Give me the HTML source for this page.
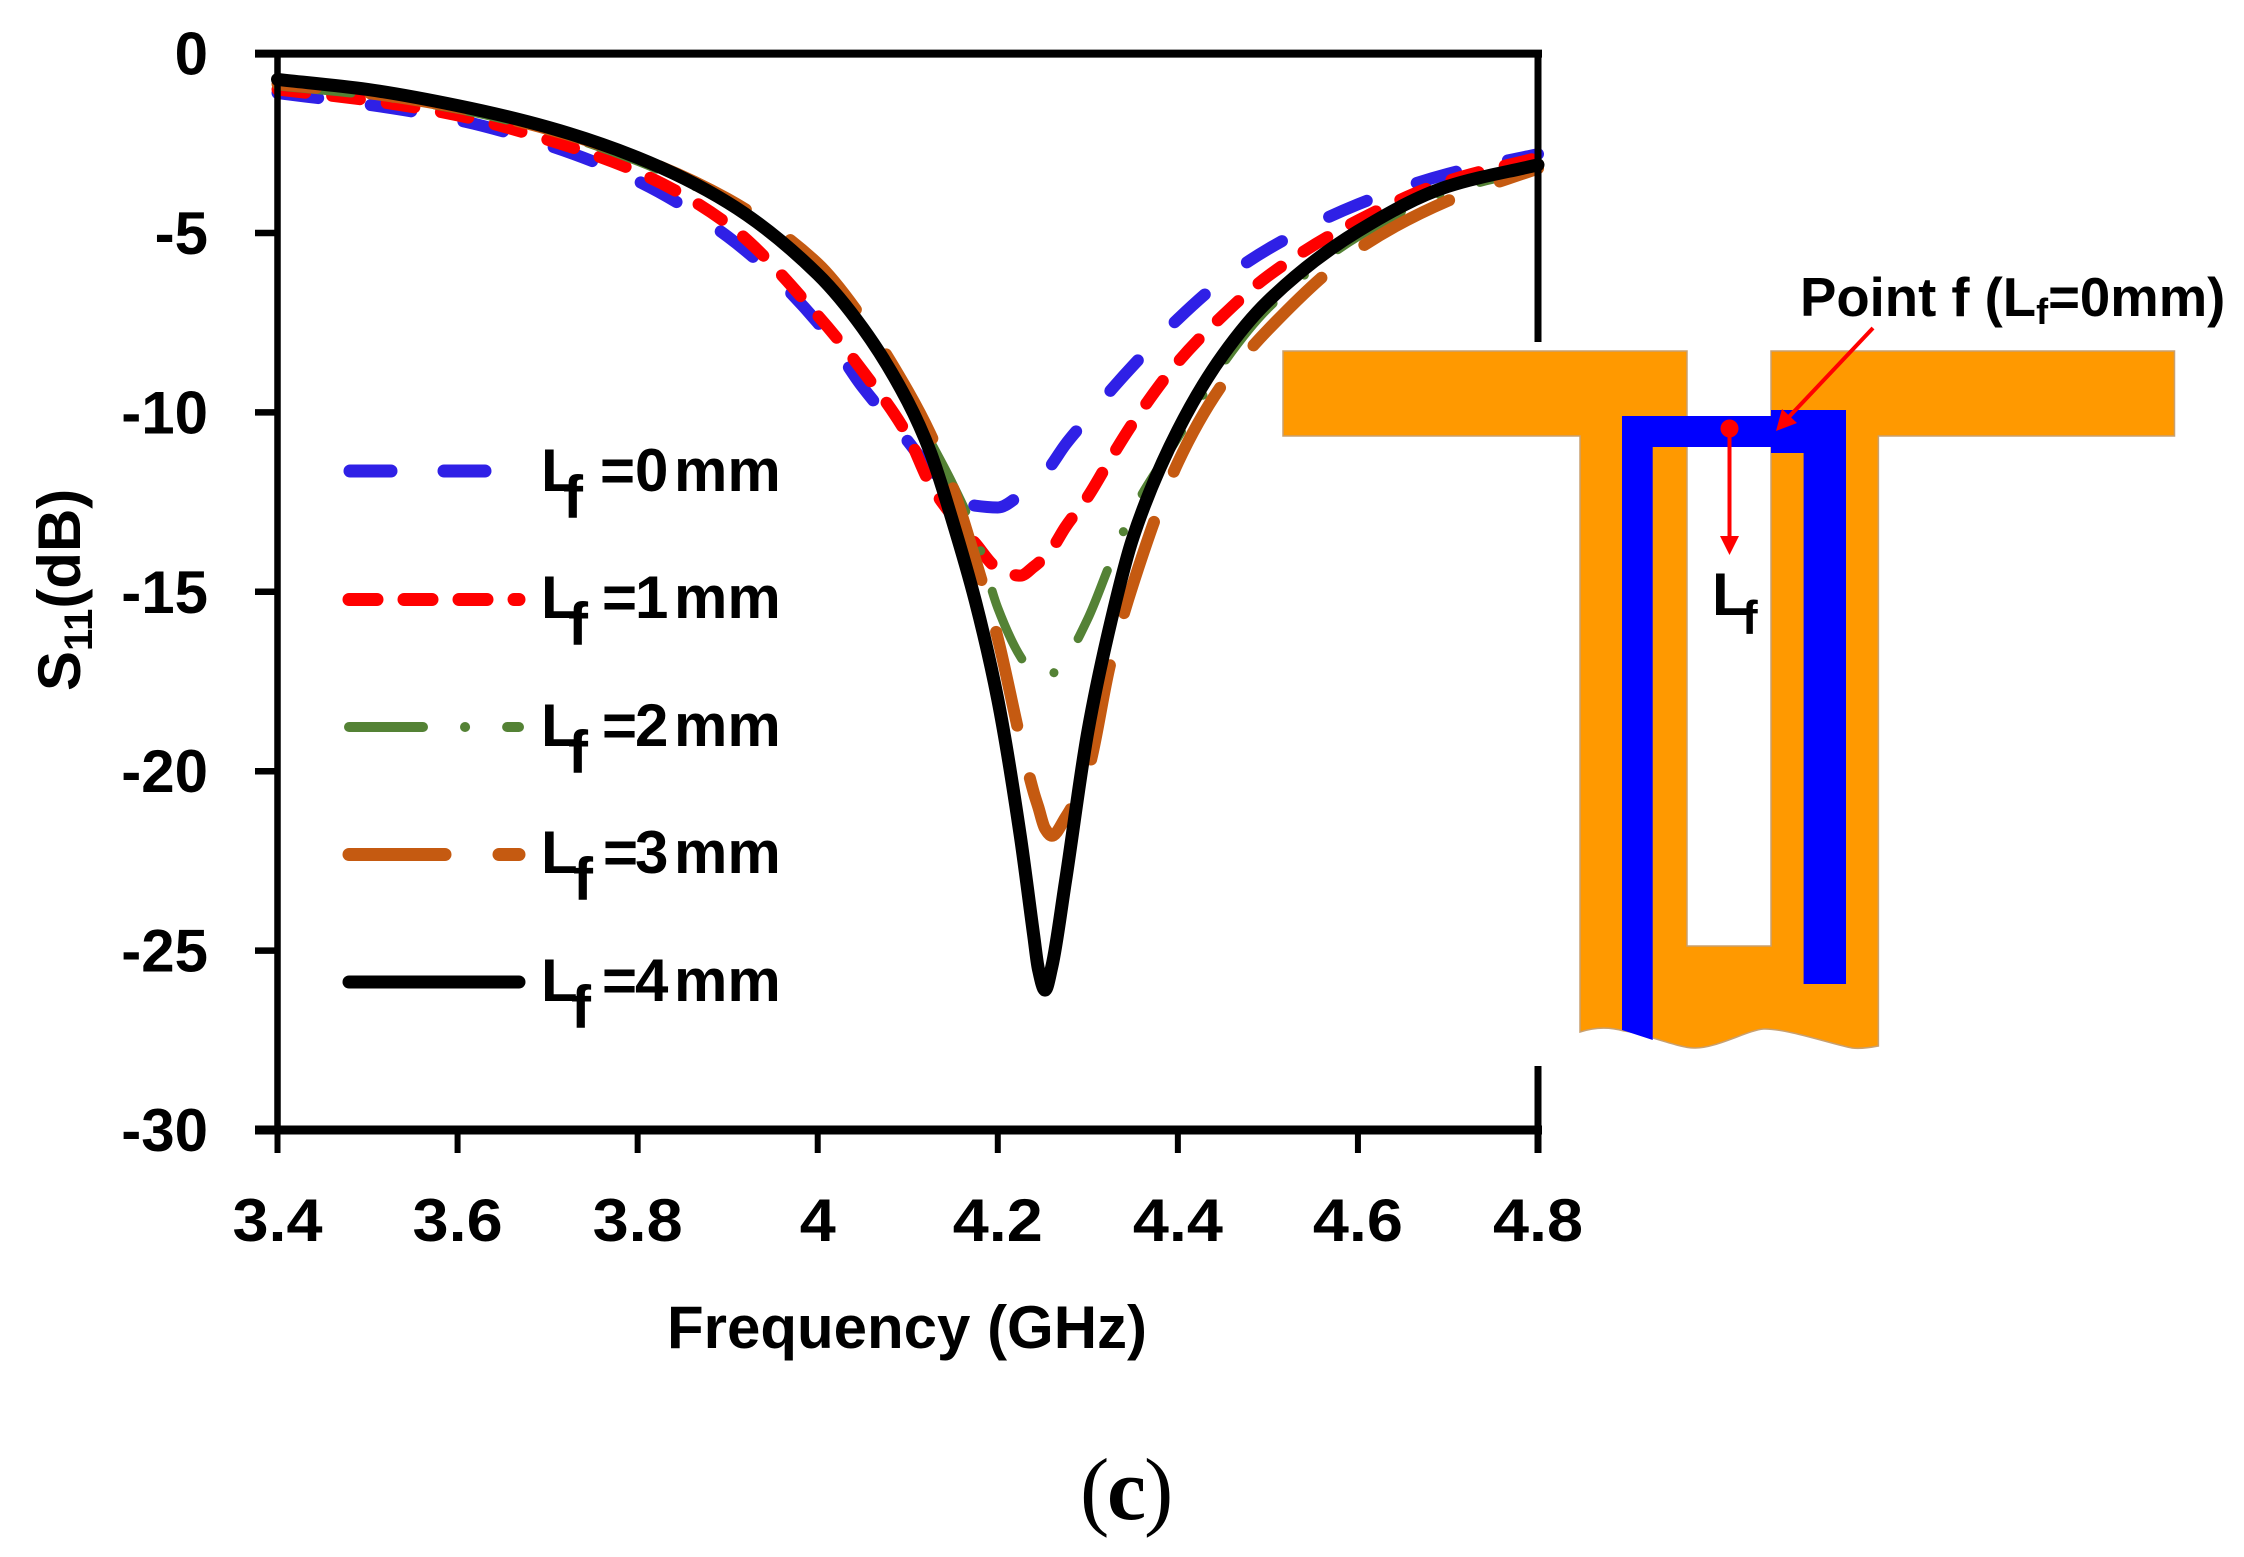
<!DOCTYPE html>
<html lang="en">
<head>
<meta charset="utf-8">
<title>S11 versus frequency for varying Lf</title>
<style>
html,body{margin:0;padding:0;background:#fff}
svg{display:block}
text{font-family:"Liberation Sans",sans-serif;font-weight:700;fill:#000}
</style>
</head>
<body>
<svg id="figure" xmlns="http://www.w3.org/2000/svg" width="2244" height="1557" viewBox="0 0 2244 1557">
  <rect x="0" y="0" width="2244" height="1557" fill="#fff"/>
  <g id="ticks"></g>
  <g id="curves"></g>
  <g id="frame"></g>
  <g id="tick-labels"></g>

  <text transform="translate(80,691) rotate(-90)" font-size="60">S<tspan font-size="40" dy="12">11</tspan><tspan dy="-12">(dB)</tspan></text>
  <text x="907" y="1348" font-size="60" text-anchor="middle">Frequency (GHz)</text>
  <text y="1519" font-size="88" style="font-family:'Liberation Serif',serif"><tspan x="1080" font-weight="400">(</tspan><tspan x="1107">c</tspan><tspan x="1144" font-weight="400">)</tspan></text>

  <g stroke-linecap="round" fill="none">
    <line x1="350" x2="490" y1="471" y2="471" stroke="#2f20e6" stroke-width="13" stroke-dasharray="41 53"/>
    <line x1="349" x2="519" y1="599.5" y2="599.5" stroke="#ff0000" stroke-width="13" stroke-dasharray="28 27"/>
    <line x1="349" x2="519" y1="727" y2="727" stroke="#548235" stroke-width="10" stroke-dasharray="74 42 0.1 42"/>
    <line x1="349" x2="519" y1="854.5" y2="854.5" stroke="#c55a11" stroke-width="13" stroke-dasharray="96 54"/>
    <line x1="349" x2="519" y1="982" y2="982" stroke="#000" stroke-width="13"/>
  </g>
  <g font-size="60">
    <text x="541" y="491">L<tspan x="563" y="518">f</tspan><tspan x="600" y="491">=</tspan><tspan x="635">0</tspan><tspan x="674">mm</tspan></text>
    <text x="541" y="618">L<tspan x="568" y="645">f</tspan><tspan x="602" y="618">=</tspan><tspan x="635">1</tspan><tspan x="674">mm</tspan></text>
    <text x="541" y="746">L<tspan x="568" y="773">f</tspan><tspan x="602" y="746">=</tspan><tspan x="635">2</tspan><tspan x="674">mm</tspan></text>
    <text x="541" y="873">L<tspan x="573" y="900">f</tspan><tspan x="603" y="873">=</tspan><tspan x="635">3</tspan><tspan x="674">mm</tspan></text>
    <text x="541" y="1001">L<tspan x="571" y="1028">f</tspan><tspan x="602" y="1001">=</tspan><tspan x="635">4</tspan><tspan x="674">mm</tspan></text>
  </g>

  <g>
    <path fill="#ff9900" stroke="#c8a070" stroke-width="1.5" d="M1283,351 L1687,351 L1687,946 L1771,946 L1771,351 L2174.5,351 L2174.5,436 L1878.4,436 L1878.4,1046 C1868,1048 1860,1049 1852,1048 C1835,1045 1785,1028 1763.6,1029 C1748,1030 1715,1049 1694,1048 C1678,1048 1640,1032 1624,1031 C1610,1027 1595,1027 1580,1032 L1580,436 L1283,436 Z"/>
    <path fill="#0000ff" d="M1622,416 L1771,416 L1771,410 L1846,410 L1846,984 L1803.6,984 L1803.6,453 L1771,453 L1771,447 L1652.7,447 L1652.7,1040 L1622,1030 Z"/>
    <circle cx="1729.5" cy="428.5" r="9" fill="#ff0000"/>
    <line x1="1729.5" y1="428" x2="1729.5" y2="540" stroke="#ff0000" stroke-width="4"/>
    <polygon points="1720,536 1739,536 1729.5,555" fill="#ff0000"/>
    <line x1="1873" y1="328" x2="1786" y2="420" stroke="#ff0000" stroke-width="4"/>
    <polygon points="1776,431 1782,409 1797,423" fill="#ff0000"/>
    <text x="1712" y="615" font-size="60">L<tspan x="1742" y="634" font-size="47">f</tspan></text>
    <text x="1800" y="316" font-size="54.5">Point f (L<tspan font-size="36" dy="8">f</tspan><tspan dy="-8">=0mm)</tspan></text>
  </g>
</svg>
<script>
const xTickLabels = ["3.4", "3.6", "3.8", "4", "4.2", "4.4", "4.6", "4.8"];
const xTickValues = [3.4, 3.6, 3.8, 4.0, 4.2, 4.4, 4.6, 4.8];
const yTickValues = [0, -5, -10, -15, -20, -25, -30];
const yTickLabels = ["0", "-5", "-10", "-15", "-20", "-25", "-30"];

const frequencies = [3.4, 3.5, 3.6, 3.7, 3.8, 3.9, 4.0, 4.05, 4.1, 4.125, 4.15, 4.175, 4.2, 4.225, 4.24, 4.245, 4.2525, 4.26, 4.275, 4.3, 4.325, 4.35, 4.4, 4.45, 4.5, 4.6, 4.7, 4.8];
const lf0 = [-1.1, -1.42, -1.85, -2.55, -3.55, -5.1, -7.5, -9.3, -10.8, -11.6, -12.2, -12.6, -12.65, -12.3, -12.0, -11.9, -11.7, -11.45, -10.9, -10.15, -9.4, -8.7, -7.4, -6.3, -5.45, -4.2, -3.35, -2.8];
const lf1 = [-1.0, -1.3, -1.72, -2.4, -3.3, -4.75, -7.3, -8.85, -10.65, -12.0, -12.9, -13.65, -14.35, -14.55, -14.3, -14.2, -14.0, -13.8, -13.2, -12.35, -11.3, -10.3, -8.6, -7.3, -6.2, -4.65, -3.55, -2.9];
const lf2 = [-0.9, -1.15, -1.55, -2.15, -3.0, -4.2, -6.15, -7.65, -9.6, -10.8, -12.0, -13.4, -15.45, -16.8, -17.3, -17.35, -17.4, -17.3, -16.9, -15.75, -14.2, -12.75, -10.7, -8.65, -7.1, -5.1, -3.85, -3.2];
const lf3 = [-0.85, -1.1, -1.5, -2.1, -2.9, -4.05, -5.85, -7.4, -9.4, -10.6, -12.1, -14.1, -16.3, -19.1, -20.6, -21.0, -21.6, -21.8, -21.3, -20.0, -17.0, -14.8, -11.4, -9.2, -7.7, -5.45, -4.1, -3.2];
const lf4 = [-0.72, -1.0, -1.45, -2.05, -2.9, -4.15, -6.15, -7.65, -9.7, -11.1, -13.05, -15.25, -18.0, -21.8, -24.6, -25.5, -26.1, -25.45, -23.1, -18.9, -15.9, -13.5, -10.5, -8.4, -6.9, -4.95, -3.7, -3.1];

const SVG_NS = "http://www.w3.org/2000/svg";
const plotLeft = 277.5, plotRight = 1538, plotTop = 53.6, plotBottom = 1130;

function xScale(f) { return plotLeft + (f - 3.4) / (4.8 - 3.4) * (plotRight - plotLeft); }
function yScale(db) { return plotTop + (0 - db) / 30 * (plotBottom - plotTop); }

function monotonePath(xs, ys) {
  const n = xs.length, dx = [], slope = [], tan = [];
  for (let i = 0; i < n - 1; i++) {
    dx[i] = xs[i + 1] - xs[i];
    slope[i] = (ys[i + 1] - ys[i]) / dx[i];
  }
  tan[0] = slope[0];
  tan[n - 1] = slope[n - 2];
  for (let i = 1; i < n - 1; i++) {
    if (slope[i - 1] * slope[i] <= 0) { tan[i] = 0; }
    else {
      const w1 = 2 * dx[i] + dx[i - 1], w2 = dx[i] + 2 * dx[i - 1];
      tan[i] = (w1 + w2) / (w1 / slope[i - 1] + w2 / slope[i]);
    }
  }
  let d = "M" + xs[0].toFixed(2) + "," + ys[0].toFixed(2);
  for (let i = 0; i < n - 1; i++) {
    const h = dx[i] / 3;
    d += "C" + (xs[i] + h).toFixed(2) + "," + (ys[i] + tan[i] * h).toFixed(2) + " " +
         (xs[i + 1] - h).toFixed(2) + "," + (ys[i + 1] - tan[i + 1] * h).toFixed(2) + " " +
         xs[i + 1].toFixed(2) + "," + ys[i + 1].toFixed(2);
  }
  return d;
}

function drawCurve(values, name, color, width, dash, offset) {
  const path = document.createElementNS(SVG_NS, "path");
  
  
  path.setAttribute("d", monotonePath(frequencies.map(xScale), values.map(yScale)));
  path.setAttribute("fill", "none");
  path.setAttribute("stroke", color);
  path.setAttribute("stroke-width", width);
  path.setAttribute("stroke-linecap", "round");
  path.setAttribute("stroke-linejoin", "round");
  if (dash) path.setAttribute("stroke-dasharray", dash);
  if (offset) path.setAttribute("stroke-dashoffset", offset);
  document.getElementById("curves").appendChild(path);
}

drawCurve(lf0, "curve-lf-0mm", "#2f20e6", 12, "41 53", 0);
drawCurve(lf1, "curve-lf-1mm", "#ff0000", 12, "28 27", 0);
drawCurve(lf2, "curve-lf-2mm", "#548235", 9, "74 42 0.1 42", 0);
drawCurve(lf3, "curve-lf-3mm", "#c55a11", 12, "96 54", 57);
drawCurve(lf4, "curve-lf-4mm", "#000000", 13, null, 0);

function frameLine(name, x1, y1, x2, y2, width, parentId) {
  const line = document.createElementNS(SVG_NS, "line");
  
  
  line.setAttribute("x1", x1);
  line.setAttribute("y1", y1);
  line.setAttribute("x2", x2);
  line.setAttribute("y2", y2);
  line.setAttribute("stroke", "#000");
  line.setAttribute("stroke-width", width);
  document.getElementById(parentId).appendChild(line);
}

frameLine("axis-top", 255, plotTop, plotRight + 4, plotTop, 8, "frame");
frameLine("axis-left", plotLeft, plotTop, plotLeft, plotBottom, 6.5, "frame");
frameLine("axis-bottom", 255, plotBottom, plotRight + 4, plotBottom, 9, "frame");
frameLine("axis-right-upper", plotRight, plotTop, plotRight, 342, 7, "frame");
frameLine("axis-right-lower", plotRight, 1066, plotRight, 1153, 7, "frame");

xTickValues.forEach(function (v, i) {
  frameLine("x-tick", xScale(v), plotBottom, xScale(v), 1153, 6, "ticks");
  const label = document.createElementNS(SVG_NS, "text");
  
  
  label.setAttribute("transform", "translate(" + xScale(v) + ",1241) scale(1.08,1)");
  label.setAttribute("font-size", "60");
  label.setAttribute("text-anchor", "middle");
  label.textContent = xTickLabels[i];
  document.getElementById("tick-labels").appendChild(label);
});

yTickValues.forEach(function (v, i) {
  frameLine("y-tick", 255, yScale(v), plotLeft, yScale(v), 6.5, "ticks");
  const label = document.createElementNS(SVG_NS, "text");
  
  
  label.setAttribute("x", "208");
  label.setAttribute("y", yScale(v) + 21);
  label.setAttribute("font-size", "60");
  label.setAttribute("text-anchor", "end");
  label.textContent = yTickLabels[i];
  document.getElementById("tick-labels").appendChild(label);
});
</script>
</body>
</html>
